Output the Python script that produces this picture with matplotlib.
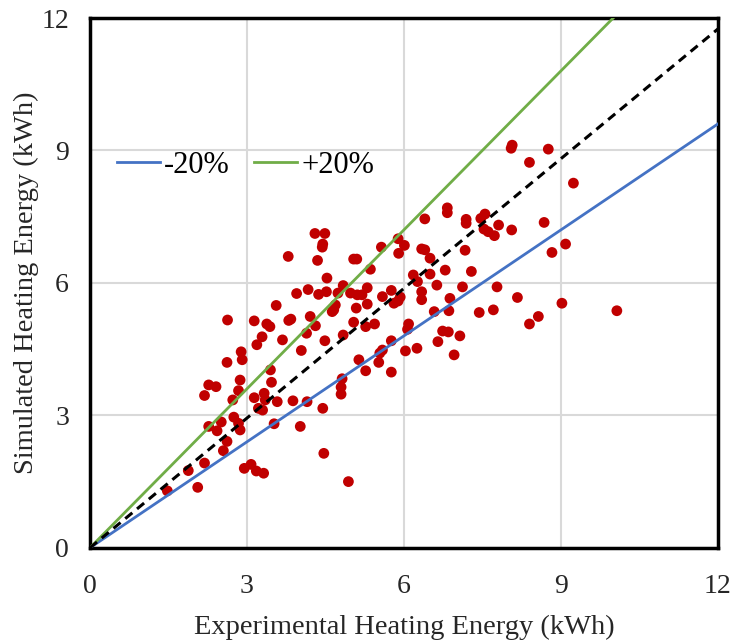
import numpy as np
import matplotlib.pyplot as plt

# experimental vs simulated heating energy (kWh)
exp_kwh = [4.30, 4.49, 4.45, 4.44, 3.79, 4.35, 5.04, 5.10, 4.53, 4.84, 4.17, 3.95, 4.52, 4.37, 4.74, 4.98, 5.11, 3.56, 5.09,
           8.07, 8.05, 8.40, 6.83, 6.83, 6.40, 7.19, 7.19, 7.55, 7.47, 7.81, 8.06, 7.53, 7.61, 7.73, 5.89, 5.57, 6.01, 5.90,
           6.34, 6.40, 7.17, 6.50, 5.36, 6.79, 7.29, 6.18, 6.50, 6.26, 6.63, 7.12, 7.78, 5.30, 5.76, 6.34, 5.20, 5.59, 5.93,
           6.34, 6.88, 8.17, 5.30, 5.81, 5.89,
           2.63, 3.14, 3.38, 3.44, 3.80, 3.84, 4.21, 4.31, 4.66, 4.69, 4.63, 3.29, 3.19, 3.68, 4.14, 4.49, 4.84, 5.04, 2.89,
           2.91, 2.62, 4.04, 5.14, 3.45, 2.87, 3.47, 2.27, 2.41, 2.19, 2.84, 2.73, 3.33, 3.14, 3.35, 3.58, 3.88, 4.15, 4.82,
           4.80, 4.80, 3.22, 3.30, 4.45, 2.75, 2.84, 2.27, 2.51, 2.43, 2.87, 3.52, 4.02, 2.62, 2.55, 2.19, 1.88, 2.95, 3.08,
           3.18, 3.32, 4.47, 4.94, 2.06, 1.48,
           6.09, 6.07, 5.76, 5.59, 5.54, 5.52, 5.27, 5.76, 6.03, 6.25, 6.65, 6.74, 6.85, 7.07, 6.96, 6.58, 6.86, 7.44, 7.71,
           8.40, 5.27, 5.44,
           8.76, 9.24, 8.68, 9.09, 8.83, 9.02, 8.57, 10.07]
sim_kwh = [7.12, 7.12, 6.88, 6.81, 6.60, 6.51, 6.54, 6.54, 6.11, 5.94, 5.85, 5.76, 5.80, 5.74, 5.77, 5.77, 5.73, 5.49, 5.43,
           9.12, 9.05, 8.73, 7.70, 7.59, 7.45, 7.44, 7.35, 7.56, 7.46, 7.31, 7.20, 7.22, 7.16, 7.07, 7.00, 6.81, 6.85, 6.67,
           6.77, 6.75, 6.74, 6.56, 6.31, 6.29, 6.26, 6.18, 6.20, 6.03, 5.95, 5.91, 5.91, 5.89, 5.83, 5.80, 5.73, 5.69, 5.68,
           5.62, 5.65, 5.67, 5.52, 5.54, 5.59,
           5.16, 5.14, 5.07, 5.01, 5.15, 5.18, 5.24, 5.03, 5.39, 5.50, 5.35, 4.78, 4.60, 4.71, 4.86, 4.69, 4.82, 5.11, 4.44,
           4.26, 4.20, 4.47, 4.26, 4.03, 3.80, 3.75, 3.69, 3.65, 3.45, 3.56, 3.35, 3.50, 3.40, 3.35, 3.31, 3.33, 3.31, 3.83,
           3.64, 3.48, 3.16, 3.12, 3.16, 2.96, 2.82, 2.75, 2.85, 2.65, 2.67, 2.81, 2.75, 2.41, 2.20, 1.92, 1.75, 1.80, 1.89,
           1.74, 1.69, 2.14, 1.50, 1.37, 1.29,
           5.07, 4.95, 4.69, 4.48, 4.41, 4.20, 4.01, 3.98, 4.46, 4.52, 4.67, 4.91, 4.89, 4.80, 4.37, 5.35, 5.37, 5.33, 5.39,
           5.07, 5.01, 5.07,
           9.03, 8.26, 7.37, 6.88, 6.69, 5.54, 5.24, 5.37]

line_x = [0, 12]
minus20 = [0, 9.6]
plus20 = [0, 14.4]
one_to_one = [0, 11.75]

ticks = [0, 3, 6, 9, 12]

plt.rcParams['font.family'] = ['Liberation Serif', 'DejaVu Serif']

fig = plt.figure(figsize=(7.37, 6.43), dpi=100)
ax = fig.add_axes([0.122, 0.148, 0.852, 0.824])

ax.scatter(exp_kwh, sim_kwh, s=60, color='#c00000', edgecolors='none', zorder=2)
l1, = ax.plot(line_x, minus20, color='#4472c4', lw=2.0, zorder=3)
l2, = ax.plot(line_x, plus20, color='#70ad47', lw=2.0, zorder=3)
ax.plot(line_x, one_to_one, color='black', lw=2.2, ls=(0, (3, 2)), zorder=3)

ax.set_xlim(0, 12)
ax.set_ylim(0, 12)
ax.set_xticks(ticks)
ax.set_yticks(ticks)
ax.grid(True, color='#d9d9d9', lw=1.5, zorder=0)
ax.set_axisbelow(True)
ax.tick_params(length=0, labelsize=20, colors='#262626')
ax.tick_params(axis='x', pad=19)
ax.tick_params(axis='y', pad=15)
for sp in ax.spines.values():
    sp.set_linewidth(2.5)
    sp.set_color('black')

ax.set_xlabel('Experimental Heating Energy (kWh)', fontsize=20.5, color='#262626', labelpad=11)
ax.set_ylabel('Simulated Heating Energy (kWh)', fontsize=20.5, color='#262626', labelpad=2)

ax.legend([l1, l2], ['-20%', '+20%'], loc='center left', bbox_to_anchor=(0.043, 0.722), ncol=2,
          frameon=False, fontsize=22, handlelength=1.4, columnspacing=0.8, handletextpad=0.15,
          borderaxespad=0, borderpad=0)

fig.savefig('out.png', dpi=100)
